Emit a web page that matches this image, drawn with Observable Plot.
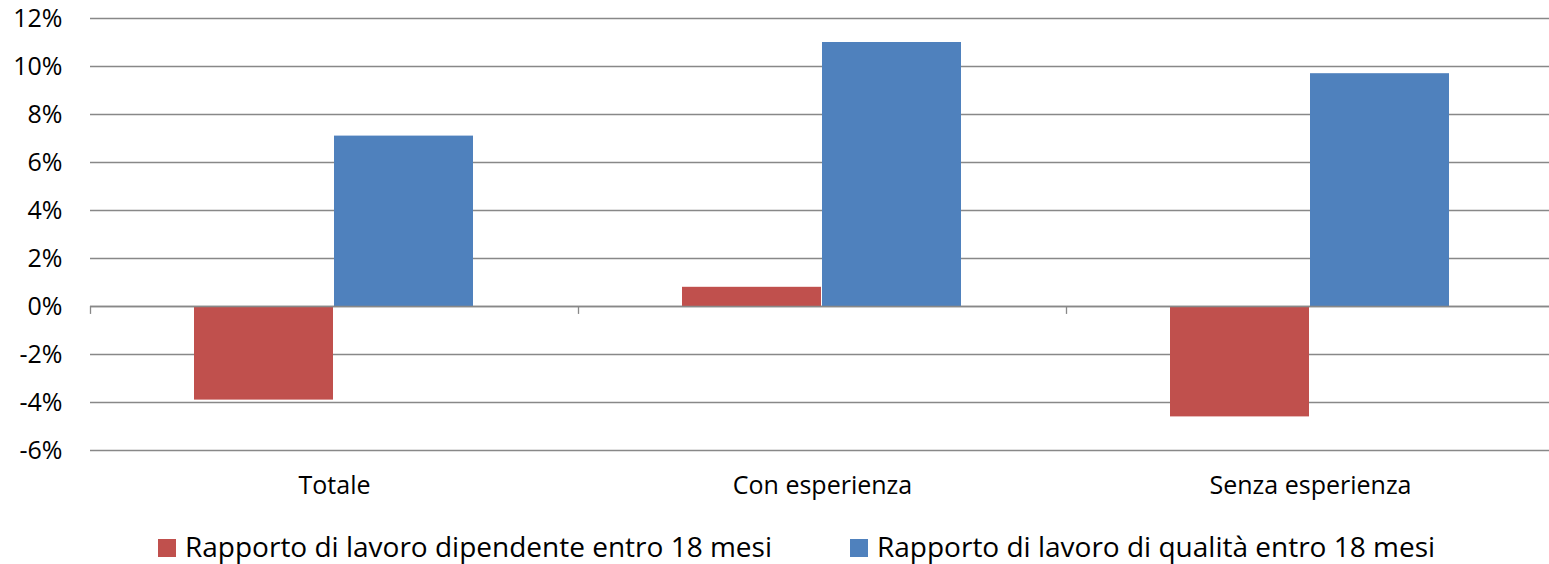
<!DOCTYPE html>
<html>
<head>
<meta charset="utf-8">
<script src="https://cdn.jsdelivr.net/npm/d3@7"></script>
<script src="https://cdn.jsdelivr.net/npm/@observablehq/plot@0.6"></script>
<style>
  html, body { margin: 0; padding: 0; background: #fff; overflow: hidden; }
  body { width: 1549px; height: 564px; font-family: "Open Sans", sans-serif; position: relative; }
  #chart svg { max-width: none !important; display: block; }
  #legend { position: absolute; top: 532px; left: 0; width: 1549px; height: 30px; font-family: "Open Sans", sans-serif; font-size: 28px; line-height: 1; color: #000; }
  .item { position: absolute; top: 0; display: flex; align-items: center; white-space: nowrap; line-height: 1; }
  .sw { width: 18px; height: 18px; margin-right: 9px; position: relative; top: 2px; }
</style>
</head>
<body>
<div id="chart"></div>
<div id="legend"></div>
<script>
const categories = ["Totale", "Con esperienza", "Senza esperienza"];
const seriesNames = ["Rapporto di lavoro dipendente entro 18 mesi", "Rapporto di lavoro di qualità entro 18 mesi"];
const dipendente = [-3.9, 0.8, -4.6];
const qualita = [7.1, 11.0, 9.7];
const yTicks = [-6, -4, -2, 0, 2, 4, 6, 8, 10, 12];
const colors = ["#C0504D", "#4F81BD"];

const rows = [];
categories.forEach((c, i) => {
  rows.push({cat: c, series: seriesNames[0], value: dipendente[i]});
  rows.push({cat: c, series: seriesNames[1], value: qualita[i]});
});

const chart = Plot.plot({
  width: 1554,
  height: 520,
  marginLeft: 90,
  marginRight: 0,
  marginTop: 18,
  marginBottom: 70,
  style: {fontFamily: "Open Sans, sans-serif", fontSize: "25px", color: "#000", background: "#fff", overflow: "visible", maxWidth: "none"},
  x: {domain: categories, padding: 0, label: null},
  y: {domain: [-6, 12], label: null},
  color: {domain: seriesNames, range: colors},
  marks: [
    Plot.ruleY(yTicks, {stroke: "#888", strokeWidth: 1.3}),
    Plot.barY(rows.filter(d => d.series === seriesNames[0]), {x: "cat", y: "value", fill: "series", insetLeft: 104, insetRight: 245}),
    Plot.barY(rows.filter(d => d.series === seriesNames[1]), {x: "cat", y: "value", fill: "series", insetLeft: 244, insetRight: 105}),
    Plot.ruleY([0], {stroke: "#888", strokeWidth: 1.3}),
    Plot.ruleX(categories, {x: d => d, y1: 0, y2: -0.33, dx: -244, stroke: "#888", strokeWidth: 1.3}),
    Plot.axisY({ticks: yTicks, tickSize: 0, tickPadding: 28, tickFormat: d => d + "%", fontSize: 25}),
    Plot.axisX({tickSize: 0, tickPadding: 26, fontSize: 25, label: null})
  ]
});
document.getElementById("chart").appendChild(chart);

const legend = document.getElementById("legend");
const lefts = [158, 850];
seriesNames.forEach((s, i) => {
  const it = document.createElement("div");
  it.className = "item";
  it.style.left = lefts[i] + "px";
  const sw = document.createElement("span");
  sw.className = "sw";
  sw.style.background = colors[i];
  const tx = document.createElement("span");
  tx.textContent = s;
  it.appendChild(sw);
  it.appendChild(tx);
  legend.appendChild(it);
});
</script>
</body>
</html>
